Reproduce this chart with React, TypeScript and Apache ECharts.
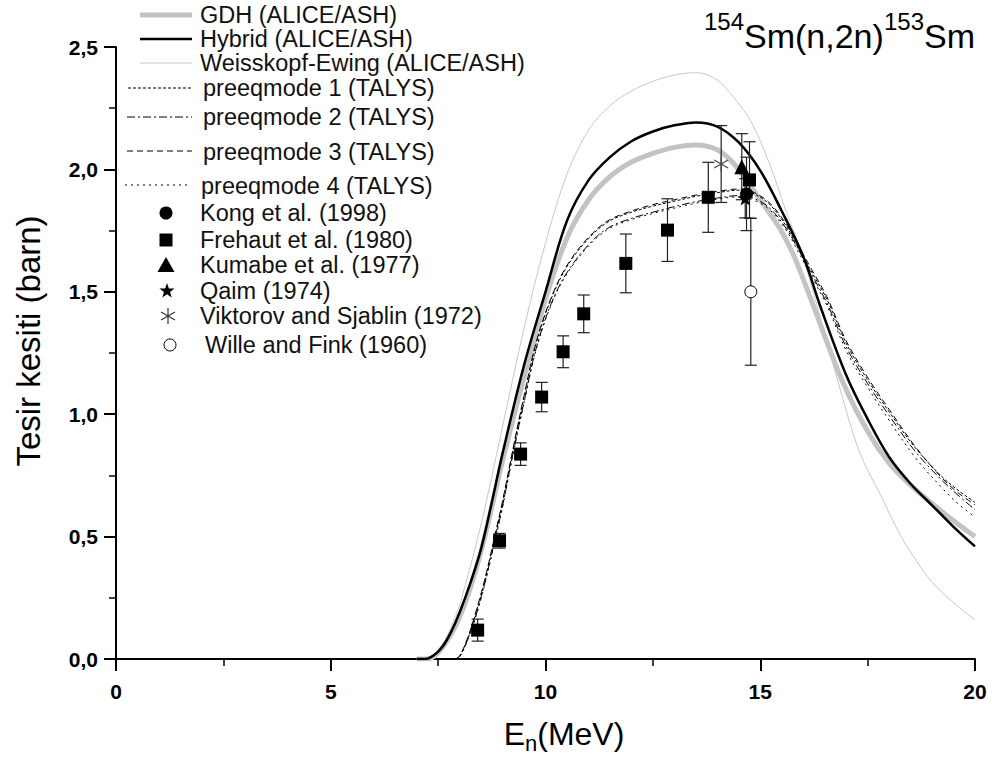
import React, { useEffect, useRef } from "react";
import * as echarts from "echarts";

const FONT = "'Liberation Sans', Arial, Helvetica, sans-serif";

// ---- Model curves: energies (MeV) and cross sections (barn) ----
const gdhE = [7.0, 7.25, 7.5, 7.8, 8.0, 8.25, 8.5, 8.75, 9.0, 9.5, 10.0, 10.5, 11.0, 11.5, 12.0, 12.5, 13.0, 13.5, 14.0, 14.4, 14.8, 15.3, 15.5, 15.8, 16.2, 16.9, 17.5, 18.0, 18.5, 19.0, 19.5, 20.0];
const gdhV = [0, 0, 0.025, 0.1, 0.17, 0.29, 0.44, 0.62, 0.81, 1.15, 1.47, 1.72, 1.875, 1.97, 2.03, 2.065, 2.09, 2.1, 2.08, 2.02, 1.925, 1.8, 1.745, 1.64, 1.46, 1.14, 0.93, 0.8, 0.71, 0.635, 0.565, 0.5];

const hybE = [7.0, 7.2, 7.4, 7.6, 7.8, 8.0, 8.25, 8.5, 8.75, 9.0, 9.5, 10.0, 10.5, 11.0, 11.5, 12.0, 12.5, 13.0, 13.5, 14.0, 14.5, 15.0, 15.5, 16.0, 16.4, 17.0, 17.5, 18.0, 18.5, 19.0, 19.5, 20.0];
const hybV = [0, 0, 0.015, 0.05, 0.11, 0.19, 0.31, 0.45, 0.64, 0.84, 1.2, 1.5, 1.79, 1.955, 2.05, 2.115, 2.155, 2.18, 2.192, 2.175, 2.11, 1.995, 1.83, 1.645, 1.44, 1.16, 0.98, 0.825, 0.716, 0.628, 0.54, 0.46];

const weE = [7.0, 7.15, 7.4, 7.6, 7.8, 8.0, 8.5, 9.0, 9.5, 10.0, 10.5, 11.0, 11.5, 12.0, 12.5, 13.0, 13.5, 14.0, 14.4, 14.8, 15.2, 15.6, 16.0, 16.5, 16.8, 17.3, 17.8, 18.25, 18.6, 19.0, 19.5, 20.0];
const weV = [0, 0, 0.02, 0.06, 0.13, 0.22, 0.55, 0.95, 1.35, 1.7, 1.98, 2.16, 2.26, 2.32, 2.36, 2.385, 2.395, 2.365, 2.29, 2.19, 2.03, 1.83, 1.64, 1.33, 1.14, 0.85, 0.67, 0.51, 0.41, 0.315, 0.23, 0.16];

const talysE = [7.9, 8.0, 8.2, 8.4, 8.6, 8.86, 9.0, 9.25, 9.5, 9.8, 10.2, 10.6, 11.1, 11.5, 12.0, 12.5, 13.0, 13.5, 14.0, 14.5, 14.8, 15.2, 15.6, 15.85, 16.2, 16.55, 17.0, 17.5, 18.0, 18.6, 19.2, 19.6, 20.0];
const pm1V = [0, 0.01, 0.09, 0.2, 0.33, 0.53, 0.64, 0.86, 1.07, 1.3, 1.5, 1.63, 1.735, 1.79, 1.825, 1.85, 1.87, 1.89, 1.905, 1.915, 1.905, 1.86, 1.77, 1.69, 1.58, 1.47, 1.29, 1.14, 1.01, 0.865, 0.75, 0.69, 0.64];
const pm2V = [0, 0.01, 0.085, 0.19, 0.32, 0.515, 0.625, 0.845, 1.05, 1.28, 1.48, 1.605, 1.71, 1.765, 1.8, 1.825, 1.848, 1.868, 1.883, 1.893, 1.885, 1.845, 1.76, 1.685, 1.57, 1.455, 1.275, 1.125, 0.995, 0.85, 0.735, 0.67, 0.61];
const pm3V = [0, 0.012, 0.092, 0.205, 0.335, 0.535, 0.645, 0.865, 1.075, 1.305, 1.505, 1.635, 1.74, 1.795, 1.83, 1.856, 1.876, 1.895, 1.91, 1.92, 1.91, 1.866, 1.778, 1.7, 1.59, 1.48, 1.3, 1.15, 1.02, 0.87, 0.745, 0.68, 0.63];
const pm4V = [0, 0.008, 0.082, 0.185, 0.315, 0.51, 0.62, 0.84, 1.045, 1.275, 1.475, 1.6, 1.705, 1.76, 1.795, 1.82, 1.842, 1.862, 1.878, 1.888, 1.878, 1.838, 1.752, 1.675, 1.56, 1.445, 1.26, 1.11, 0.975, 0.825, 0.705, 0.635, 0.58];

// ---- Experimental data: energy, cross section, uncertainty ----
const kongE = [14.68];
const kongV = [1.9];
const kongErr = [0.15];

const frehautE = [8.42, 8.93, 9.42, 9.91, 10.41, 10.89, 11.87, 12.84, 13.79, 14.75];
const frehautV = [0.118, 0.483, 0.837, 1.07, 1.255, 1.41, 1.616, 1.752, 1.886, 1.957];
const frehautErr = [0.045, 0.03, 0.046, 0.06, 0.065, 0.077, 0.12, 0.128, 0.143, 0.156];

const kumabeE = [14.57];
const kumabeV = [2.011];
const kumabeErr = [0.135];

const qaimE = [14.65];
const qaimV = [1.882];
const qaimErr = [0.08];

const viktorovE = [14.09];
const viktorovV = [2.022];
const viktorovErr = [0.157];

const willeE = [14.78];
const willeV = [1.5];
const willeErr = [0.3];

// ---- Axes ----
const xTicks = [0, 5, 10, 15, 20];
const yTicks = [0, 0.5, 1.0, 1.5, 2.0, 2.5];

const zip2 = (xs: number[], ys: number[]) => xs.map((x, i) => [x, ys[i]]);
const zip3 = (xs: number[], ys: number[], es: number[]) => xs.map((x, i) => [x, ys[i], es[i]]);

const STAR = "path://M0,-10L2.35,-3.24L9.51,-3.09L3.8,1.24L5.88,8.09L0,4L-5.88,8.09L-3.8,1.24L-9.51,-3.09L-2.35,-3.24Z";

function starPoints(cx: number, cy: number, R: number) {
  const pts: number[][] = [];
  for (let i = 0; i < 10; i++) {
    const r = i % 2 === 0 ? R : R * 0.4;
    const a = -Math.PI / 2 + (i * Math.PI) / 5;
    pts.push([cx + r * Math.cos(a), cy + r * Math.sin(a)]);
  }
  return pts;
}

function asteriskLines(cx: number, cy: number, r: number, color: string) {
  const out: any[] = [];
  for (let k = 0; k < 3; k++) {
    const a = Math.PI / 2 + (k * Math.PI) / 3;
    out.push({
      type: "line",
      shape: { x1: cx - r * Math.cos(a), y1: cy - r * Math.sin(a), x2: cx + r * Math.cos(a), y2: cy + r * Math.sin(a) },
      style: { stroke: color, lineWidth: 1.2 },
    });
  }
  return out;
}

export default function App() {
  const ref = useRef<HTMLDivElement>(null);

  useEffect(() => {
    if (!ref.current) return;
    const chart = echarts.init(ref.current, undefined, { renderer: "svg" });

    const lineSeries = (name: string, data: number[][], style: any, z = 2) => ({
      name,
      type: "line",
      data,
      showSymbol: false,
      symbol: "none",
      smooth: 0.35,
      lineStyle: style,
      z,
      silent: true,
    });

    const errData = [
      ...zip3(frehautE, frehautV, frehautErr),
      ...zip3(kongE, kongV, kongErr),
      ...zip3(kumabeE, kumabeV, kumabeErr),
      ...zip3(qaimE, qaimV, qaimErr),
      ...zip3(viktorovE, viktorovV, viktorovErr),
      ...zip3(willeE, willeV, willeErr),
    ];

    const legendLines = [
      { y: 15, x1: 140, x2: 192, style: { stroke: "#c3c3c3", lineWidth: 5 } },
      { y: 39, x1: 140, x2: 192, style: { stroke: "#000", lineWidth: 2.5 } },
      { y: 63, x1: 140, x2: 192, style: { stroke: "#c8c8c8", lineWidth: 1 } },
      { y: 88, x1: 128, x2: 192, style: { stroke: "#000", lineWidth: 1, lineDash: [3, 2] } },
      { y: 117, x1: 127, x2: 192, style: { stroke: "#000", lineWidth: 1, lineDash: [8, 3, 2, 3] } },
      { y: 151, x1: 127, x2: 192, style: { stroke: "#000", lineWidth: 1, lineDash: [6, 4] } },
      { y: 185, x1: 125, x2: 190, style: { stroke: "#000", lineWidth: 1, lineDash: [2, 4] } },
    ];
    const legendTexts = [
      { x: 200, y: 15, t: "GDH (ALICE/ASH)" },
      { x: 200, y: 39, t: "Hybrid (ALICE/ASH)" },
      { x: 200, y: 63, t: "Weisskopf-Ewing (ALICE/ASH)" },
      { x: 203, y: 88, t: "preeqmode 1 (TALYS)" },
      { x: 203, y: 117, t: "preeqmode 2 (TALYS)" },
      { x: 203, y: 152, t: "preeqmode 3 (TALYS)" },
      { x: 201, y: 186, t: "preeqmode 4 (TALYS)" },
      { x: 200, y: 213, t: "Kong et al. (1998)" },
      { x: 200, y: 240, t: "Frehaut et al. (1980)" },
      { x: 200, y: 265, t: "Kumabe et al. (1977)" },
      { x: 200, y: 291, t: "Qaim (1974)" },
      { x: 200, y: 316, t: "Viktorov and Sjablin (1972)" },
      { x: 205, y: 345, t: "Wille and Fink (1960)" },
    ];

    // title pieces: text, x, centre y, font size
    const titleParts = [
      { t: "154", x: 704, y: 21.6, fs: 24 },
      { t: "Sm(n,2n)", x: 744, y: 36, fs: 34 },
      { t: "153", x: 884, y: 21.6, fs: 24 },
      { t: "Sm", x: 924, y: 36, fs: 34 },
    ];

    const graphic: any[] = [
      ...legendLines.map((l) => ({
        type: "line",
        shape: { x1: l.x1, y1: l.y, x2: l.x2, y2: l.y },
        style: l.style,
        silent: true,
      })),
      ...legendTexts.map((t) => ({
        type: "text",
        x: t.x,
        y: t.y,
        silent: true,
        style: {
          text: t.t,
          fontSize: 23.5,
          lineHeight: 21,
          fontFamily: FONT,
          fill: "#111",
          verticalAlign: "middle",
          align: "left",
        },
      })),
      { type: "circle", shape: { cx: 166, cy: 213, r: 6.5 }, style: { fill: "#000" } },
      { type: "rect", shape: { x: 159.5, y: 233.5, width: 13, height: 13 }, style: { fill: "#000" } },
      { type: "polygon", shape: { points: [[166, 257], [174.5, 272], [157.5, 272]] }, style: { fill: "#000" } },
      { type: "polygon", shape: { points: starPoints(167, 291, 8) }, style: { fill: "#000" } },
      { type: "group", children: asteriskLines(168, 316, 8, "#333") },
      { type: "circle", shape: { cx: 170, cy: 345, r: 6 }, style: { fill: "#fff", stroke: "#000", lineWidth: 1 } },
      ...titleParts.map((p) => ({
        type: "text",
        x: p.x,
        y: p.y,
        silent: true,
        style: { text: p.t, fontSize: p.fs, fontFamily: FONT, fill: "#000", align: "left", verticalAlign: "middle" },
      })),
      {
        type: "text",
        x: 564,
        y: 718,
        silent: true,
        style: {
          text: "{m|E}{s|n}{m|(MeV)}",
          align: "center",
          verticalAlign: "top",
          fill: "#000",
          fontFamily: FONT,
          rich: {
            m: { fontSize: 32, lineHeight: 36, verticalAlign: "top", fontFamily: FONT, fill: "#000" },
            s: { fontSize: 22, lineHeight: 16, verticalAlign: "bottom", fontFamily: FONT, fill: "#000" },
          },
        },
      },
      {
        type: "text",
        x: 28,
        y: 341,
        rotation: Math.PI / 2,
        silent: true,
        style: {
          text: "Tesir kesiti (barn)",
          fontSize: 33,
          fontFamily: FONT,
          fill: "#000",
          align: "center",
          verticalAlign: "middle",
        },
      },
    ];

    const option: any = {
      animation: false,
      backgroundColor: "#fff",
      grid: { left: 116, right: 17, top: 47, bottom: 99 },
      xAxis: {
        type: "value",
        min: xTicks[0],
        max: xTicks[xTicks.length - 1],
        interval: 5,
        axisLine: { show: true, onZero: false, lineStyle: { color: "#000", width: 2 } },
        axisTick: { show: true, inside: false, length: 12, lineStyle: { color: "#000", width: 2 } },
        minorTick: { show: true, splitNumber: 2, length: 7, lineStyle: { color: "#000", width: 1.5 } },
        splitLine: { show: false },
        axisLabel: {
          color: "#000",
          fontSize: 21,
          fontWeight: "bold",
          fontFamily: FONT,
          margin: 22,
          formatter: (v: number) => (xTicks.includes(v) ? String(v) : ""),
        },
      },
      yAxis: {
        type: "value",
        min: yTicks[0],
        max: yTicks[yTicks.length - 1],
        interval: 0.5,
        axisLine: { show: true, onZero: false, lineStyle: { color: "#000", width: 2 } },
        axisTick: { show: true, inside: false, length: 12, lineStyle: { color: "#000", width: 2 } },
        minorTick: { show: true, splitNumber: 2, length: 7, lineStyle: { color: "#000", width: 1.5 } },
        splitLine: { show: false },
        axisLabel: {
          color: "#000",
          fontSize: 21,
          fontWeight: "bold",
          fontFamily: FONT,
          margin: 18,
          formatter: (v: number) => v.toFixed(1).replace(".", ","),
        },
      },
      graphic,
      series: [
        lineSeries("Weisskopf-Ewing (ALICE/ASH)", zip2(weE, weV), { color: "#c8c8c8", width: 1 }),
        lineSeries("GDH (ALICE/ASH)", zip2(gdhE, gdhV), { color: "#c3c3c3", width: 5 }),
        lineSeries("Hybrid (ALICE/ASH)", zip2(hybE, hybV), { color: "#000", width: 2.5 }),
        lineSeries("preeqmode 1 (TALYS)", zip2(talysE, pm1V), { color: "#000", width: 1, type: [3, 2] }),
        lineSeries("preeqmode 2 (TALYS)", zip2(talysE, pm2V), { color: "#000", width: 1, type: [8, 3, 2, 3] }),
        lineSeries("preeqmode 3 (TALYS)", zip2(talysE, pm3V), { color: "#000", width: 1, type: [6, 4] }),
        lineSeries("preeqmode 4 (TALYS)", zip2(talysE, pm4V), { color: "#000", width: 1, type: [2, 4] }),
        {
          name: "errors",
          type: "custom",
          data: errData,
          encode: { x: 0, y: 1 },
          z: 5,
          silent: true,
          renderItem: (params: any, api: any) => {
            const x = api.value(0);
            const y = api.value(1);
            const e = api.value(2);
            const top = api.coord([x, y + e]);
            const bot = api.coord([x, y - e]);
            const w = 6;
            const st = { stroke: "#222", lineWidth: 1.2 };
            return {
              type: "group",
              children: [
                { type: "line", shape: { x1: top[0], y1: top[1], x2: bot[0], y2: bot[1] }, style: st },
                { type: "line", shape: { x1: top[0] - w, y1: top[1], x2: top[0] + w, y2: top[1] }, style: st },
                { type: "line", shape: { x1: bot[0] - w, y1: bot[1], x2: bot[0] + w, y2: bot[1] }, style: st },
              ],
            };
          },
        },
        {
          name: "Wille and Fink (1960)",
          type: "scatter",
          data: zip2(willeE, willeV),
          symbol: "circle",
          symbolSize: 12,
          itemStyle: { color: "#fff", borderColor: "#000", borderWidth: 1, opacity: 1 },
          z: 6,
          silent: true,
        },
        {
          name: "Frehaut et al. (1980)",
          type: "scatter",
          data: zip2(frehautE, frehautV),
          symbol: "rect",
          symbolSize: 13,
          itemStyle: { color: "#000", opacity: 1 },
          z: 6,
          silent: true,
        },
        {
          name: "Kumabe et al. (1977)",
          type: "scatter",
          data: zip2(kumabeE, kumabeV),
          symbol: "triangle",
          symbolSize: 15,
          itemStyle: { color: "#000", opacity: 1 },
          z: 6,
          silent: true,
        },
        {
          name: "Kong et al. (1998)",
          type: "scatter",
          data: zip2(kongE, kongV),
          symbol: "circle",
          symbolSize: 13,
          itemStyle: { color: "#000", opacity: 1 },
          z: 6,
          silent: true,
        },
        {
          name: "Qaim (1974)",
          type: "scatter",
          data: zip2(qaimE, qaimV),
          symbol: STAR,
          symbolKeepAspect: true,
          symbolSize: 15,
          itemStyle: { color: "#000", opacity: 1 },
          z: 7,
          silent: true,
        },
        {
          name: "Viktorov and Sjablin (1972)",
          type: "custom",
          data: zip2(viktorovE, viktorovV),
          encode: { x: 0, y: 1 },
          z: 7,
          silent: true,
          renderItem: (params: any, api: any) => {
            const p = api.coord([api.value(0), api.value(1)]);
            return { type: "group", children: asteriskLines(p[0], p[1], 8, "#444") };
          },
        },
      ],
    };

    chart.setOption(option);
    return () => chart.dispose();
  }, []);

  return <div ref={ref} style={{ position: "fixed", left: 0, top: 0, width: 992, height: 758, background: "#fff" }} />;
}
